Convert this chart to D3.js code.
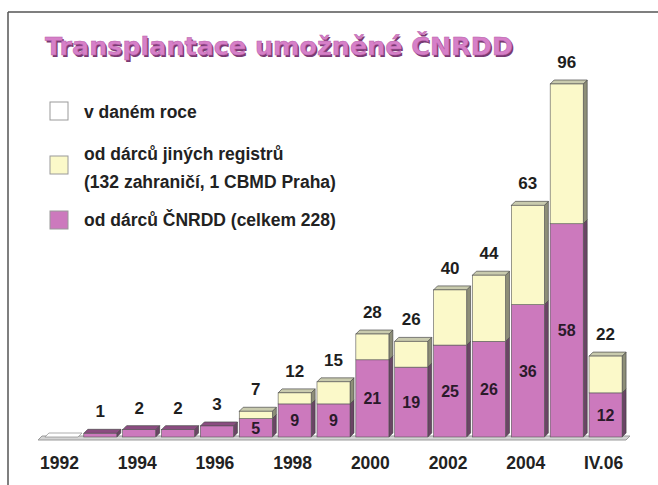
<!DOCTYPE html>
<html>
<head>
<meta charset="utf-8">
<script src="https://cdn.jsdelivr.net/npm/d3@7/dist/d3.min.js"></script>
<style>
  html, body { margin: 0; padding: 0; background: #ffffff; }
  svg { display: block; }
</style>
</head>
<body>
<svg id="chart" width="658" height="485"></svg>
<script>
// ---- data ----
const years = ["1992","1993","1994","1995","1996","1997","1998","1999","2000","2001","2002","2003","2004","2005","2006"];
const cnrdd = [0, 1, 2, 2, 3, 5, 9, 9, 21, 19, 25, 26, 36, 58, 12];
const jine  = [0, 0, 0, 0, 0, 2, 3, 6, 7, 7, 15, 18, 27, 38, 10];
const totals = [0, 1, 2, 2, 3, 7, 12, 15, 28, 26, 40, 44, 63, 96, 22];
const tickYears  = ["1992","1994","1996","1998","2000","2002","2004","2006"];
const tickLabels = ["1992","1994","1996","1998","2000","2002","2004","IV.06"];
const title = "Transplantace umožněné ČNRDD";
const legendItems = [
  { lines: ["v daném roce"], color: "#ffffff" },
  { lines: ["od dárců jiných registrů", "(132 zahraničí, 1 CBMD Praha)"], color: "#fbf9c9" },
  { lines: ["od dárců ČNRDD (celkem 228)"], color: "#cc79bd" }
];

// ---- setup ----
const svg = d3.select("#chart");
const PINK = "#cc79bd", YELLOW = "#fbf9c9";
const PINK_SIDE = "#6a4565", YELLOW_SIDE = "#8d8e78";
const YELLOW_TOP = "#c9cbae", PINK_TOP = "#8a4c80";
const dx = 4, dy = 4;

const x = d3.scaleBand().domain(years).range([42, 625]).paddingInner(0.15).paddingOuter(0.075);
const y = d3.scaleLinear().domain([0, 96]).range([437, 84]);
const w = x.bandwidth();

// frame
svg.append("line").attr("x1", 8).attr("y1", 12).attr("x2", 658).attr("y2", 12)
  .attr("stroke", "#555").attr("stroke-width", 1.5);
svg.append("line").attr("x1", 8).attr("y1", 12).attr("x2", 8).attr("y2", 485)
  .attr("stroke", "#555").attr("stroke-width", 1.5);

// title
const tg = svg.append("g");
tg.append("text").attr("x", 46.5).attr("y", 56.5).text(title)
  .attr("font-family", "DejaVu Sans").attr("font-weight", "bold").attr("font-size", 25)
  .attr("textLength", 468).attr("lengthAdjust", "spacingAndGlyphs")
  .attr("fill", "#7a3a72");
tg.append("text").attr("x", 45).attr("y", 55).text(title)
  .attr("font-family", "DejaVu Sans").attr("font-weight", "bold").attr("font-size", 25)
  .attr("textLength", 468).attr("lengthAdjust", "spacingAndGlyphs")
  .attr("fill", "#d680c8").attr("stroke", "#b860ab").attr("stroke-width", 0.5);

// legend
const legendY = [102, 156, 211];
const legendBase = [[118], [160, 188], [226]];
legendItems.forEach((it, i) => {
  svg.append("rect").attr("x", 50).attr("y", legendY[i]).attr("width", 18).attr("height", 18)
    .attr("fill", it.color).attr("stroke", "#9a9a9a").attr("stroke-width", 1);
  it.lines.forEach((ln, k) => {
    svg.append("text").attr("x", 84).attr("y", legendBase[i][k]).text(ln)
      .attr("font-family", "Liberation Sans, Arial, sans-serif").attr("font-weight", "bold")
      .attr("font-size", 17.5).attr("fill", "#222");
  });
});

// floor
const fx0 = x.range()[0] - 4, fx1 = x.range()[1] + 1;
svg.append("polygon")
  .attr("points", [[fx0, y(0) + 3], [fx1, y(0) + 3], [fx1 + dx, y(0) - 1], [fx0 + dx, y(0) - 1]].map(p => p.join(",")).join(" "))
  .attr("fill", "#d4d4d4").attr("stroke", "#9a9a9a").attr("stroke-width", 1);

// bars
const stack = d3.stack().keys(["cnrdd", "jine"]);
const rows = years.map((yr, i) => ({ year: yr, cnrdd: cnrdd[i], jine: jine[i] }));
const series = stack(rows);
const colors = { cnrdd: PINK, jine: YELLOW };
const sideColors = { cnrdd: PINK_SIDE, jine: YELLOW_SIDE };
const pts = a => a.map(p => p.join(",")).join(" ");

const barsG = svg.append("g");
years.forEach((yr, i) => {
  const g = barsG.append("g");
  const x0 = x(yr);
  // side faces
  series.forEach(s => {
    const d = s[i];
    if (d[1] - d[0] <= 0) return;
    const yt = y(d[1]), yb = y(d[0]);
    g.append("polygon")
      .attr("points", pts([[x0 + w, yt], [x0 + w + dx, yt - dy], [x0 + w + dx, yb - dy], [x0 + w, yb]]))
      .attr("fill", sideColors[s.key]).attr("stroke", "#3a3a3a").attr("stroke-width", 0.6);
  });
  // top face
  const tot = totals[i];
  const yt = y(tot);
  const topFill = tot === 0 ? "#ffffff" : (jine[i] > 0 ? YELLOW_TOP : PINK_TOP);
  g.append("polygon")
    .attr("points", pts([[x0, yt], [x0 + dx, yt - dy], [x0 + w + dx, yt - dy], [x0 + w, yt]]))
    .attr("fill", topFill).attr("stroke", tot === 0 ? "#8a8a8a" : "#4a4a4a").attr("stroke-width", 0.7);
  // fronts
  series.forEach(s => {
    const d = s[i];
    if (d[1] - d[0] <= 0) return;
    g.append("rect").attr("x", x0).attr("y", y(d[1])).attr("width", w).attr("height", y(d[0]) - y(d[1]))
      .attr("fill", colors[s.key]).attr("stroke", "#555").attr("stroke-width", 0.6);
  });
  // total label
  if (tot > 0) {
    svg.append("text").attr("x", x0 + w / 2).attr("y", yt - 16).text(tot)
      .attr("text-anchor", "middle")
      .attr("font-family", "Liberation Sans, Arial, sans-serif").attr("font-weight", "bold")
      .attr("font-size", 17).attr("fill", "#1e1e1e");
  }
  // inner label
  if (cnrdd[i] >= 5) {
    svg.append("text").attr("x", x0 + w / 2).attr("y", (y(0) + y(cnrdd[i])) / 2 + 6).text(cnrdd[i])
      .attr("text-anchor", "middle")
      .attr("font-family", "Liberation Sans, Arial, sans-serif").attr("font-weight", "bold")
      .attr("font-size", 16).attr("fill", "#2a1a2a");
  }
});

// x axis labels
tickYears.forEach((yr, k) => {
  svg.append("text").attr("x", x(yr) + w / 2 - 2).attr("y", 469).text(tickLabels[k])
    .attr("text-anchor", "middle")
    .attr("font-family", "Liberation Sans, Arial, sans-serif").attr("font-weight", "bold")
    .attr("font-size", 17.5).attr("fill", "#222");
});
</script>
</body>
</html>
